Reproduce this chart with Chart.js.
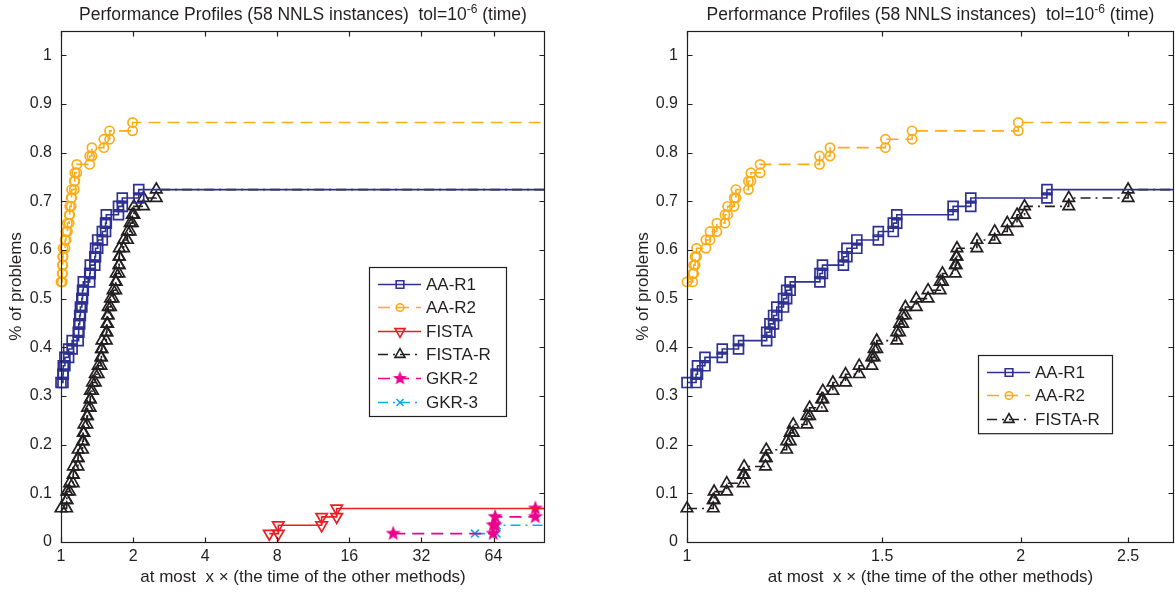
<!DOCTYPE html>
<html>
<head>
<meta charset="utf-8">
<script src="https://cdn.jsdelivr.net/npm/chart.js@4.4.1/dist/chart.umd.min.js"></script>
<style>
body { margin: 0; background: #fff; }
#wrap { position: relative; width: 1175px; height: 592px; }
#left { position: absolute; left: 0; top: 0; }
#right { position: absolute; left: 587px; top: 0; }
</style>
</head>
<body>
<div id="wrap">
<canvas id="left" width="587" height="592"></canvas>
<canvas id="right" width="588" height="592"></canvas>
</div>
<script>
var NP = 58; // number of NNLS instances

// performance ratio tau at which each profile steps up, and the solved count after the step
var aaR1Tau = [1, 1.019, 1.022, 1.038, 1.076, 1.113, 1.180, 1.188, 1.197, 1.205, 1.222, 1.230, 1.239, 1.318, 1.325, 1.384, 1.394, 1.423, 1.488, 1.535, 1.546, 1.738, 1.803, 2.112];
var aaR1Cnt = [19, 20, 21, 22, 23, 24, 25, 26, 27, 28, 29, 30, 31, 32, 33, 34, 35, 36, 37, 38, 39, 40, 41, 42];

var aaR2Tau = [1, 1.012, 1.014, 1.017, 1.020, 1.040, 1.049, 1.064, 1.082, 1.088, 1.103, 1.107, 1.136, 1.142, 1.164, 1.317, 1.346, 1.51, 1.596, 1.99];
var aaR2Cnt = [31, 32, 33, 34, 35, 36, 37, 38, 39, 40, 41, 42, 43, 44, 45, 46, 47, 48, 49, 50];

var fistaTau = [7.41, 8.08, 12.26, 14.16];
var fistaCnt = [1, 2, 3, 4];

var fistaRTau = [1, 1.056, 1.058, 1.086, 1.124, 1.126, 1.177, 1.179, 1.230, 1.239, 1.247, 1.283, 1.290, 1.323, 1.326, 1.354, 1.390, 1.430, 1.468, 1.475, 1.483, 1.546, 1.555, 1.565, 1.574, 1.61, 1.650, 1.692, 1.700, 1.746, 1.749, 1.752, 1.826, 1.895, 1.945, 1.985, 2.016, 2.21, 2.50];
var fistaRCnt = [4, 5, 6, 7, 8, 9, 10, 11, 12, 13, 14, 15, 16, 17, 18, 19, 20, 21, 22, 23, 24, 25, 26, 27, 28, 29, 30, 31, 32, 33, 34, 35, 36, 37, 38, 39, 40, 41, 42];

var gkr2Tau = [24.4, 63.8, 65.0, 95.7];
var gkr2Cnt = [1, 2, 3, 4];

var gkr3Tau = [53.5, 65.9];
var gkr3Cnt = [1, 2];

var leftXTicks = [1, 2, 4, 8, 16, 32, 64];
var rightXTicks = [1, 1.5, 2, 2.5];
var yTicks = [0, 0.1, 0.2, 0.3, 0.4, 0.5, 0.6, 0.7, 0.8, 0.9, 1];
var leftXMax = 105;
var rightXMax = 2.75;

var titleMain = 'Performance Profiles (58 NNLS instances)  tol=10';
var titleSup = '-6';
var titleTail = ' (time)';
var xTitle = 'at most  x \u00d7 (the time of the other methods)';
var yTitle = '% of problems';

var FONT = '"Liberation Sans", Arial, Helvetica, sans-serif';
var INK = '#231f20';

function starImg(color, R) {
    var c = document.createElement('canvas');
    var s = Math.ceil(2 * R + 2);
    c.width = s; c.height = s;
    var g = c.getContext('2d');
    g.fillStyle = color;
    g.beginPath();
    for (var k = 0; k < 10; k++) {
        var rr = k % 2 ? R * 0.42 : R;
        var a = -Math.PI / 2 + k * Math.PI / 5;
        g.lineTo(s / 2 + rr * Math.cos(a), s / 2 + rr * Math.sin(a));
    }
    g.closePath();
    g.fill();
    return c;
}

var styles = {
    'AA-R1':   { color: '#2e3192', dash: [], point: 'rect', r: 7, lr: 5.4 },
    'AA-R2':   { color: '#fbad18', dash: [12, 7], point: 'circle', r: 4.6, lr: 3.8 },
    'FISTA':   { color: '#ed1c24', dash: [], point: 'triangle', rot: 180, r: 6.6, lr: 5.8 },
    'FISTA-R': { color: INK, dash: [10, 5, 2, 5], point: 'triangle', r: 6.6, lr: 5.8 },
    'GKR-2':   { color: '#ec008c', dash: [12, 7], point: starImg('#ec008c', 8), r: 8, lr: 7, img: starImg('#ec008c', 7.5) },
    'GKR-3':   { color: '#00aeef', dash: [10, 5, 2, 5], point: 'crossRot', r: 5.5, lr: 5 }
};

// stairs vertices, a marker at each corner like matlab's stairs
function stairs(tau, cnt, xmax) {
    var pts = [];
    for (var i = 0; i < tau.length; i++) {
        if (i > 0) pts.push({ x: tau[i], y: cnt[i - 1] / NP });
        pts.push({ x: tau[i], y: cnt[i] / NP });
    }
    pts.push({ x: xmax, y: cnt[cnt.length - 1] / NP, tail: true });
    return pts;
}

function series(label, tau, cnt, xmax) {
    var st = styles[label];
    return {
        label: label,
        data: stairs(tau, cnt, xmax),
        borderColor: st.color,
        backgroundColor: 'rgba(0,0,0,0)',
        borderWidth: 1.6,
        borderDash: st.dash,
        pointStyle: st.point,
        pointRotation: st.rot || 0,
        pointRadius: function (ctx) { return (ctx.raw && ctx.raw.tail) ? 0 : st.r; },
        pointBorderWidth: 1.7,
        pointBorderColor: st.color,
        pointBackgroundColor: 'rgba(0,0,0,0)',
        tension: 0,
        clip: { left: 10, right: 10, top: 0, bottom: 10 }
    };
}

var frame = {
    id: 'frame',
    afterDatasetsDraw: function (chart) {
        var a = chart.chartArea, ctx = chart.ctx, xs = chart.scales.x, ys = chart.scales.y;
        var L = Math.round(a.left) + 0.5, R = Math.round(a.right) - 0.5;
        var T = Math.round(a.top) + 0.5, B = Math.round(a.bottom) + 0.5;
        ctx.save();
        ctx.strokeStyle = INK;
        ctx.lineWidth = 1.2;
        ctx.strokeRect(L, T, R - L, B - T);
        ctx.beginPath();
        xs.ticks.forEach(function (t) {
            var p = Math.round(xs.getPixelForValue(t.value)) + 0.5;
            ctx.moveTo(p, B); ctx.lineTo(p, B - 5);
            ctx.moveTo(p, T); ctx.lineTo(p, T + 5);
        });
        ys.ticks.forEach(function (t) {
            var p = Math.round(ys.getPixelForValue(t.value)) + 0.5;
            ctx.moveTo(L, p); ctx.lineTo(L + 5, p);
            ctx.moveTo(R, p); ctx.lineTo(R - 5, p);
        });
        ctx.stroke();
        ctx.restore();
    }
};

var figTitle = {
    id: 'figTitle',
    afterDraw: function (chart) {
        var ctx = chart.ctx, a = chart.chartArea;
        ctx.save();
        ctx.fillStyle = INK;
        ctx.textBaseline = 'alphabetic';
        ctx.textAlign = 'left';
        var big = '17.5px ' + FONT, small = '12px ' + FONT;
        ctx.font = big;
        var w1 = ctx.measureText(titleMain).width, w3 = ctx.measureText(titleTail).width;
        ctx.font = small;
        var w2 = ctx.measureText(titleSup).width;
        var x = (a.left + a.right) / 2 - (w1 + w2 + w3) / 2, y = 20;
        ctx.font = big;
        ctx.fillText(titleMain, x, y);
        ctx.font = small;
        ctx.fillText(titleSup, x + w1, y - 7.5);
        ctx.font = big;
        ctx.fillText(titleTail, x + w1 + w2, y);
        ctx.restore();
    }
};

var boxLegend = {
    id: 'boxLegend',
    afterDraw: function (chart, args, opts) {
        var ctx = chart.ctx, sets = chart.data.datasets;
        var left = opts.left, top = opts.top, w = opts.width;
        var h = 16.5 + (sets.length - 1) * 23.6 + 14.5;
        ctx.save();
        ctx.fillStyle = '#fff';
        ctx.fillRect(left, top, w, h);
        ctx.strokeStyle = INK;
        ctx.lineWidth = 1.2;
        ctx.strokeRect(left + 0.5, top + 0.5, w, h);
        sets.forEach(function (ds, i) {
            var st = styles[ds.label];
            var y = Math.round(top + 16.5 + i * 23.6) + 0.5;
            ctx.save();
            ctx.strokeStyle = st.color;
            ctx.lineWidth = 1.6;
            ctx.setLineDash(st.dash);
            ctx.beginPath();
            ctx.moveTo(left + 9, y);
            ctx.lineTo(left + 52, y);
            ctx.stroke();
            ctx.setLineDash([]);
            ctx.fillStyle = 'rgba(0,0,0,0)';
            Chart.helpers.drawPoint(ctx, {
                pointStyle: st.img || st.point, rotation: st.rot || 0, radius: st.lr, borderWidth: 1.7
            }, left + 31, y);
            ctx.restore();
            ctx.fillStyle = INK;
            ctx.font = '17px ' + FONT;
            ctx.textBaseline = 'middle';
            ctx.fillText(ds.label, left + 57, y + 1);
        });
        ctx.restore();
    }
};

function makeChart(id, sets, xmax, xticks, pad, yWidth, legendPos) {
    return new Chart(document.getElementById(id), {
        type: 'line',
        data: { datasets: sets },
        options: {
            responsive: false,
            animation: false,
            devicePixelRatio: 1,
            events: [],
            layout: { padding: pad, autoPadding: false },
            plugins: {
                legend: { display: false },
                tooltip: { enabled: false },
                boxLegend: legendPos
            },
            scales: {
                x: {
                    type: 'logarithmic',
                    min: 1,
                    max: xmax,
                    grid: { display: false },
                    border: { display: false },
                    afterBuildTicks: function (s) { s.ticks = xticks.map(function (v) { return { value: v }; }); },
                    afterFit: function (s) { s.height = 50; s.paddingLeft = 0; s.paddingRight = 0; },
                    ticks: {
                        autoSkip: false, maxRotation: 0, padding: -3, color: INK,
                        font: { size: 16, family: FONT },
                        callback: function (v) { return String(v); }
                    },
                    title: { display: true, text: xTitle, color: INK, font: { size: 17, family: FONT }, padding: { top: 0, bottom: 4 } }
                },
                y: {
                    type: 'linear',
                    min: 0,
                    max: 1.05,
                    grid: { display: false },
                    border: { display: false },
                    afterBuildTicks: function (s) { s.ticks = yTicks.map(function (v) { return { value: v }; }); },
                    afterFit: function (s) { s.width = yWidth; s.paddingTop = 0; s.paddingBottom = 0; },
                    ticks: {
                        padding: 1, color: INK,
                        font: { size: 16, family: FONT },
                        callback: function (v) { return String(Math.round(v * 10) / 10); }
                    },
                    title: { display: true, text: yTitle, color: INK, font: { size: 17, family: FONT }, padding: { top: 6, bottom: 0 } }
                }
            }
        },
        plugins: [frame, figTitle, boxLegend]
    });
}

makeChart('left', [
    series('AA-R1', aaR1Tau, aaR1Cnt, leftXMax),
    series('AA-R2', aaR2Tau, aaR2Cnt, leftXMax),
    series('FISTA', fistaTau, fistaCnt, leftXMax),
    series('FISTA-R', fistaRTau, fistaRCnt, leftXMax),
    series('GKR-2', gkr2Tau, gkr2Cnt, leftXMax),
    series('GKR-3', gkr3Tau, gkr3Cnt, leftXMax)
], leftXMax, leftXTicks, { left: 0, right: 42, top: 31, bottom: 0 }, 61, { left: 369, top: 267, width: 137 });

makeChart('right', [
    series('AA-R1', aaR1Tau, aaR1Cnt, rightXMax),
    series('AA-R2', aaR2Tau, aaR2Cnt, rightXMax),
    series('FISTA-R', fistaRTau, fistaRCnt, rightXMax)
], rightXMax, rightXTicks, { left: 40, right: 1, top: 31, bottom: 0 }, 60, { left: 391, top: 355, width: 134 });
</script>
</body>
</html>
